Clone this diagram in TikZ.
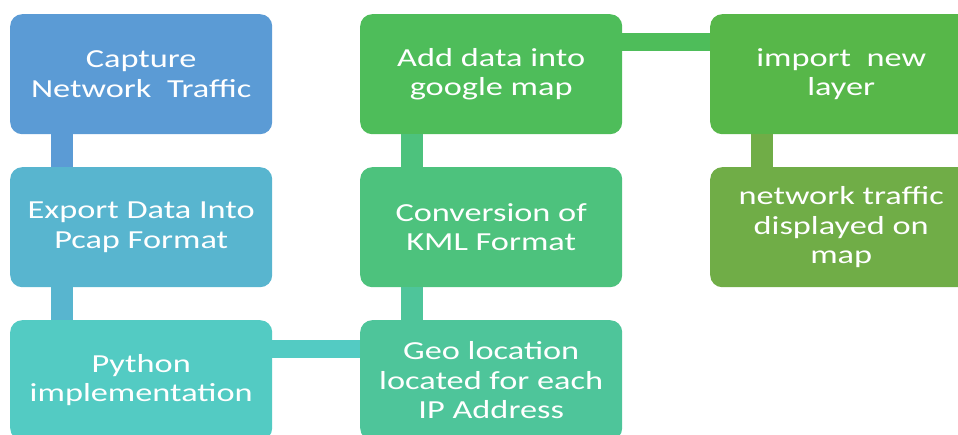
\documentclass[tikz,border=0pt]{standalone}
\usepackage{fontspec}
\setmainfont[FakeStretch=1.32]{Carlito}
\begin{document}
\begin{tikzpicture}[x=1pt,y=-1pt,
  stage/.style={rounded corners=12pt,minimum width=262pt,minimum height=120pt,
    inner sep=0pt,text=white,align=center,font=\fontsize{26}{29.2}\selectfont,anchor=north west}]
\definecolor{cA}{HTML}{5B9BD5}
\definecolor{cB}{HTML}{58B5CF}
\definecolor{cC}{HTML}{53CBC3}
\definecolor{cD}{HTML}{4EC59A}
\definecolor{cE}{HTML}{4DC27D}
\definecolor{cF}{HTML}{4EBD5A}
\definecolor{cG}{HTML}{57B749}
\definecolor{cH}{HTML}{70AD47}
\useasboundingbox (0,0) rectangle (958,435);
\clip (0,0) rectangle (958,435);
% boxes
\node[stage,fill=cA] (cap) at (10,14) {Capture\\Network~~Traffic};
\node[stage,fill=cB] (exp) at (10,167) {Export Data Into\\Pcap Format};
\node[stage,fill=cC] (py) at (10,320) {Python\\implementation};
\node[stage,fill=cD] (geo) at (360,320) {Geo location\\located for each\\IP Address};
\node[stage,fill=cE] (kml) at (360,167) {Conversion of\\KML Format};
\node[stage,fill=cF] (add) at (360,14) {Add data into\\google map};
\node[stage,fill=cG] (imp) at (710,14) {import~~new\\layer};
\node[stage,fill=cH] (show) at (710,167) {network traffic\\displayed on\\map};
% connectors
\draw[cA,line width=22pt] ([xshift=-79pt]cap.south) -- ([xshift=-79pt]exp.north);
\draw[cB,line width=22pt] ([xshift=-79pt]exp.south) -- ([xshift=-79pt]py.north);
\draw[cC,line width=18pt] ([yshift=31pt]py.east) -- ([yshift=31pt]geo.west);
\draw[cD,line width=22pt] ([xshift=-79pt]geo.north) -- ([xshift=-79pt]kml.south);
\draw[cE,line width=22pt] ([xshift=-79pt]kml.north) -- ([xshift=-79pt]add.south);
\draw[cF,line width=18pt] ([yshift=32pt]add.east) -- ([yshift=32pt]imp.west);
\draw[cH,line width=22pt] ([xshift=-79pt]imp.south) -- ([xshift=-79pt]show.north);
\end{tikzpicture}
\end{document}
